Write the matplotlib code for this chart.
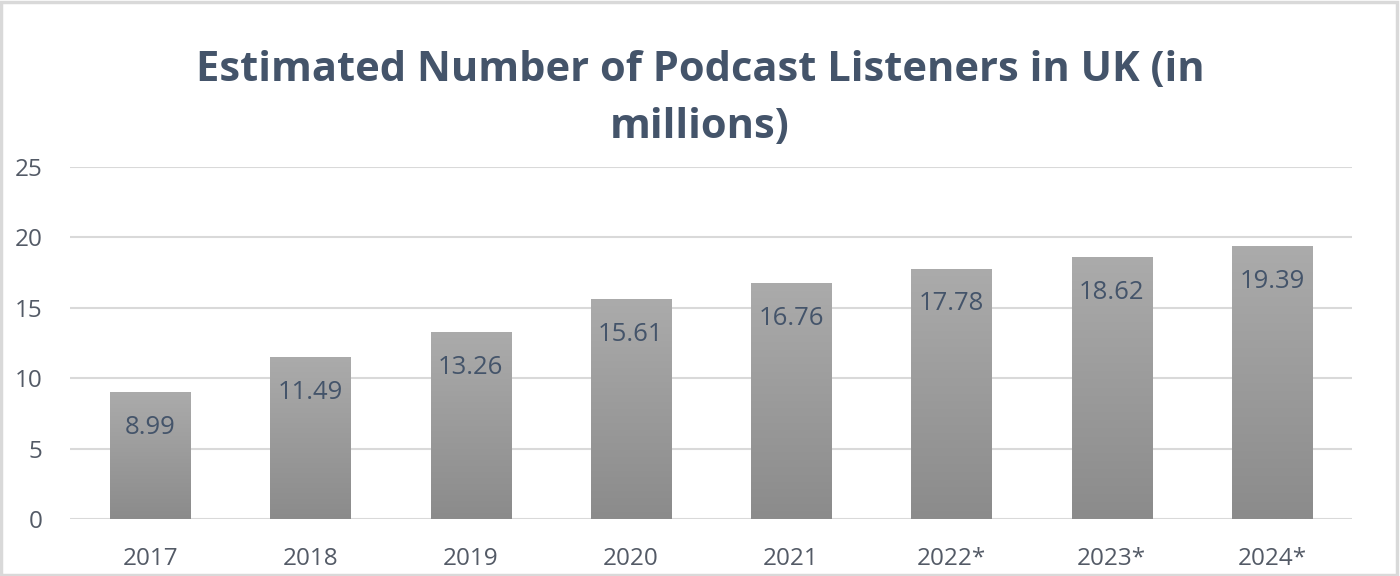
import numpy as np
import matplotlib
matplotlib.use("Agg")
import matplotlib.pyplot as plt
from matplotlib.patches import Rectangle
from matplotlib.colors import LinearSegmentedColormap

years = ["2017", "2018", "2019", "2020", "2021", "2022*", "2023*", "2024*"]
listeners = [8.99, 11.49, 13.26, 15.61, 16.76, 17.78, 18.62, 19.39]
yticks = [0, 5, 10, 15, 20, 25]
title = "Estimated Number of Podcast Listeners in UK (in\nmillions)"

plt.rcParams['font.family'] = ['Open Sans', 'DejaVu Sans']

fig = plt.figure(figsize=(14, 5.76), dpi=100)
fig.patch.set_facecolor("white")
fig.patches.append(Rectangle((0.001, 0.002), 0.997, 0.995, transform=fig.transFigure,
                             fill=False, edgecolor="#d9d9d9", linewidth=2.5))

ax = fig.add_axes([0.05, 0.099, 0.9157, 0.611])
x = np.arange(len(years))
bars = ax.bar(x, listeners, width=0.5, color="#a0a0a0", zorder=2)

grad = np.linspace(0, 1, 256).reshape(-1, 1)
cmap = LinearSegmentedColormap.from_list("g", ["#8b8b8b", "#ababab"])
for b in bars:
    x0, w, h = b.get_x(), b.get_width(), b.get_height()
    im = ax.imshow(grad, extent=(x0, x0 + w, 0, h), origin="lower", cmap=cmap,
                   aspect="auto", zorder=3)
    im.set_clip_path(b)
    ax.text(b.get_x() + w / 2, h - 2.5, f"{h:.2f}", ha="center", va="center",
            fontsize=18.5, color="#44546A", zorder=4)

ax.set_xlim(-0.5, len(years) - 0.5)
ax.set_ylim(0, 25)
ax.set_yticks(yticks)
ax.set_xticks(x)
ax.set_xticklabels(years)
ax.yaxis.grid(True, color="#d9d9d9", linewidth=1.5, zorder=0)
ax.set_axisbelow(True)
for s in ax.spines.values():
    s.set_visible(False)
ax.tick_params(axis="both", length=0, labelsize=17.5, labelcolor="#535a66")
ax.tick_params(axis="x", pad=20)
ax.tick_params(axis="y", pad=20)

fig.text(0.5, 0.828, title, ha="center", va="center", fontsize=30,
         fontweight="bold", color="#44546A", linespacing=1.5)

fig.savefig("out.png", dpi=100, facecolor="white")
